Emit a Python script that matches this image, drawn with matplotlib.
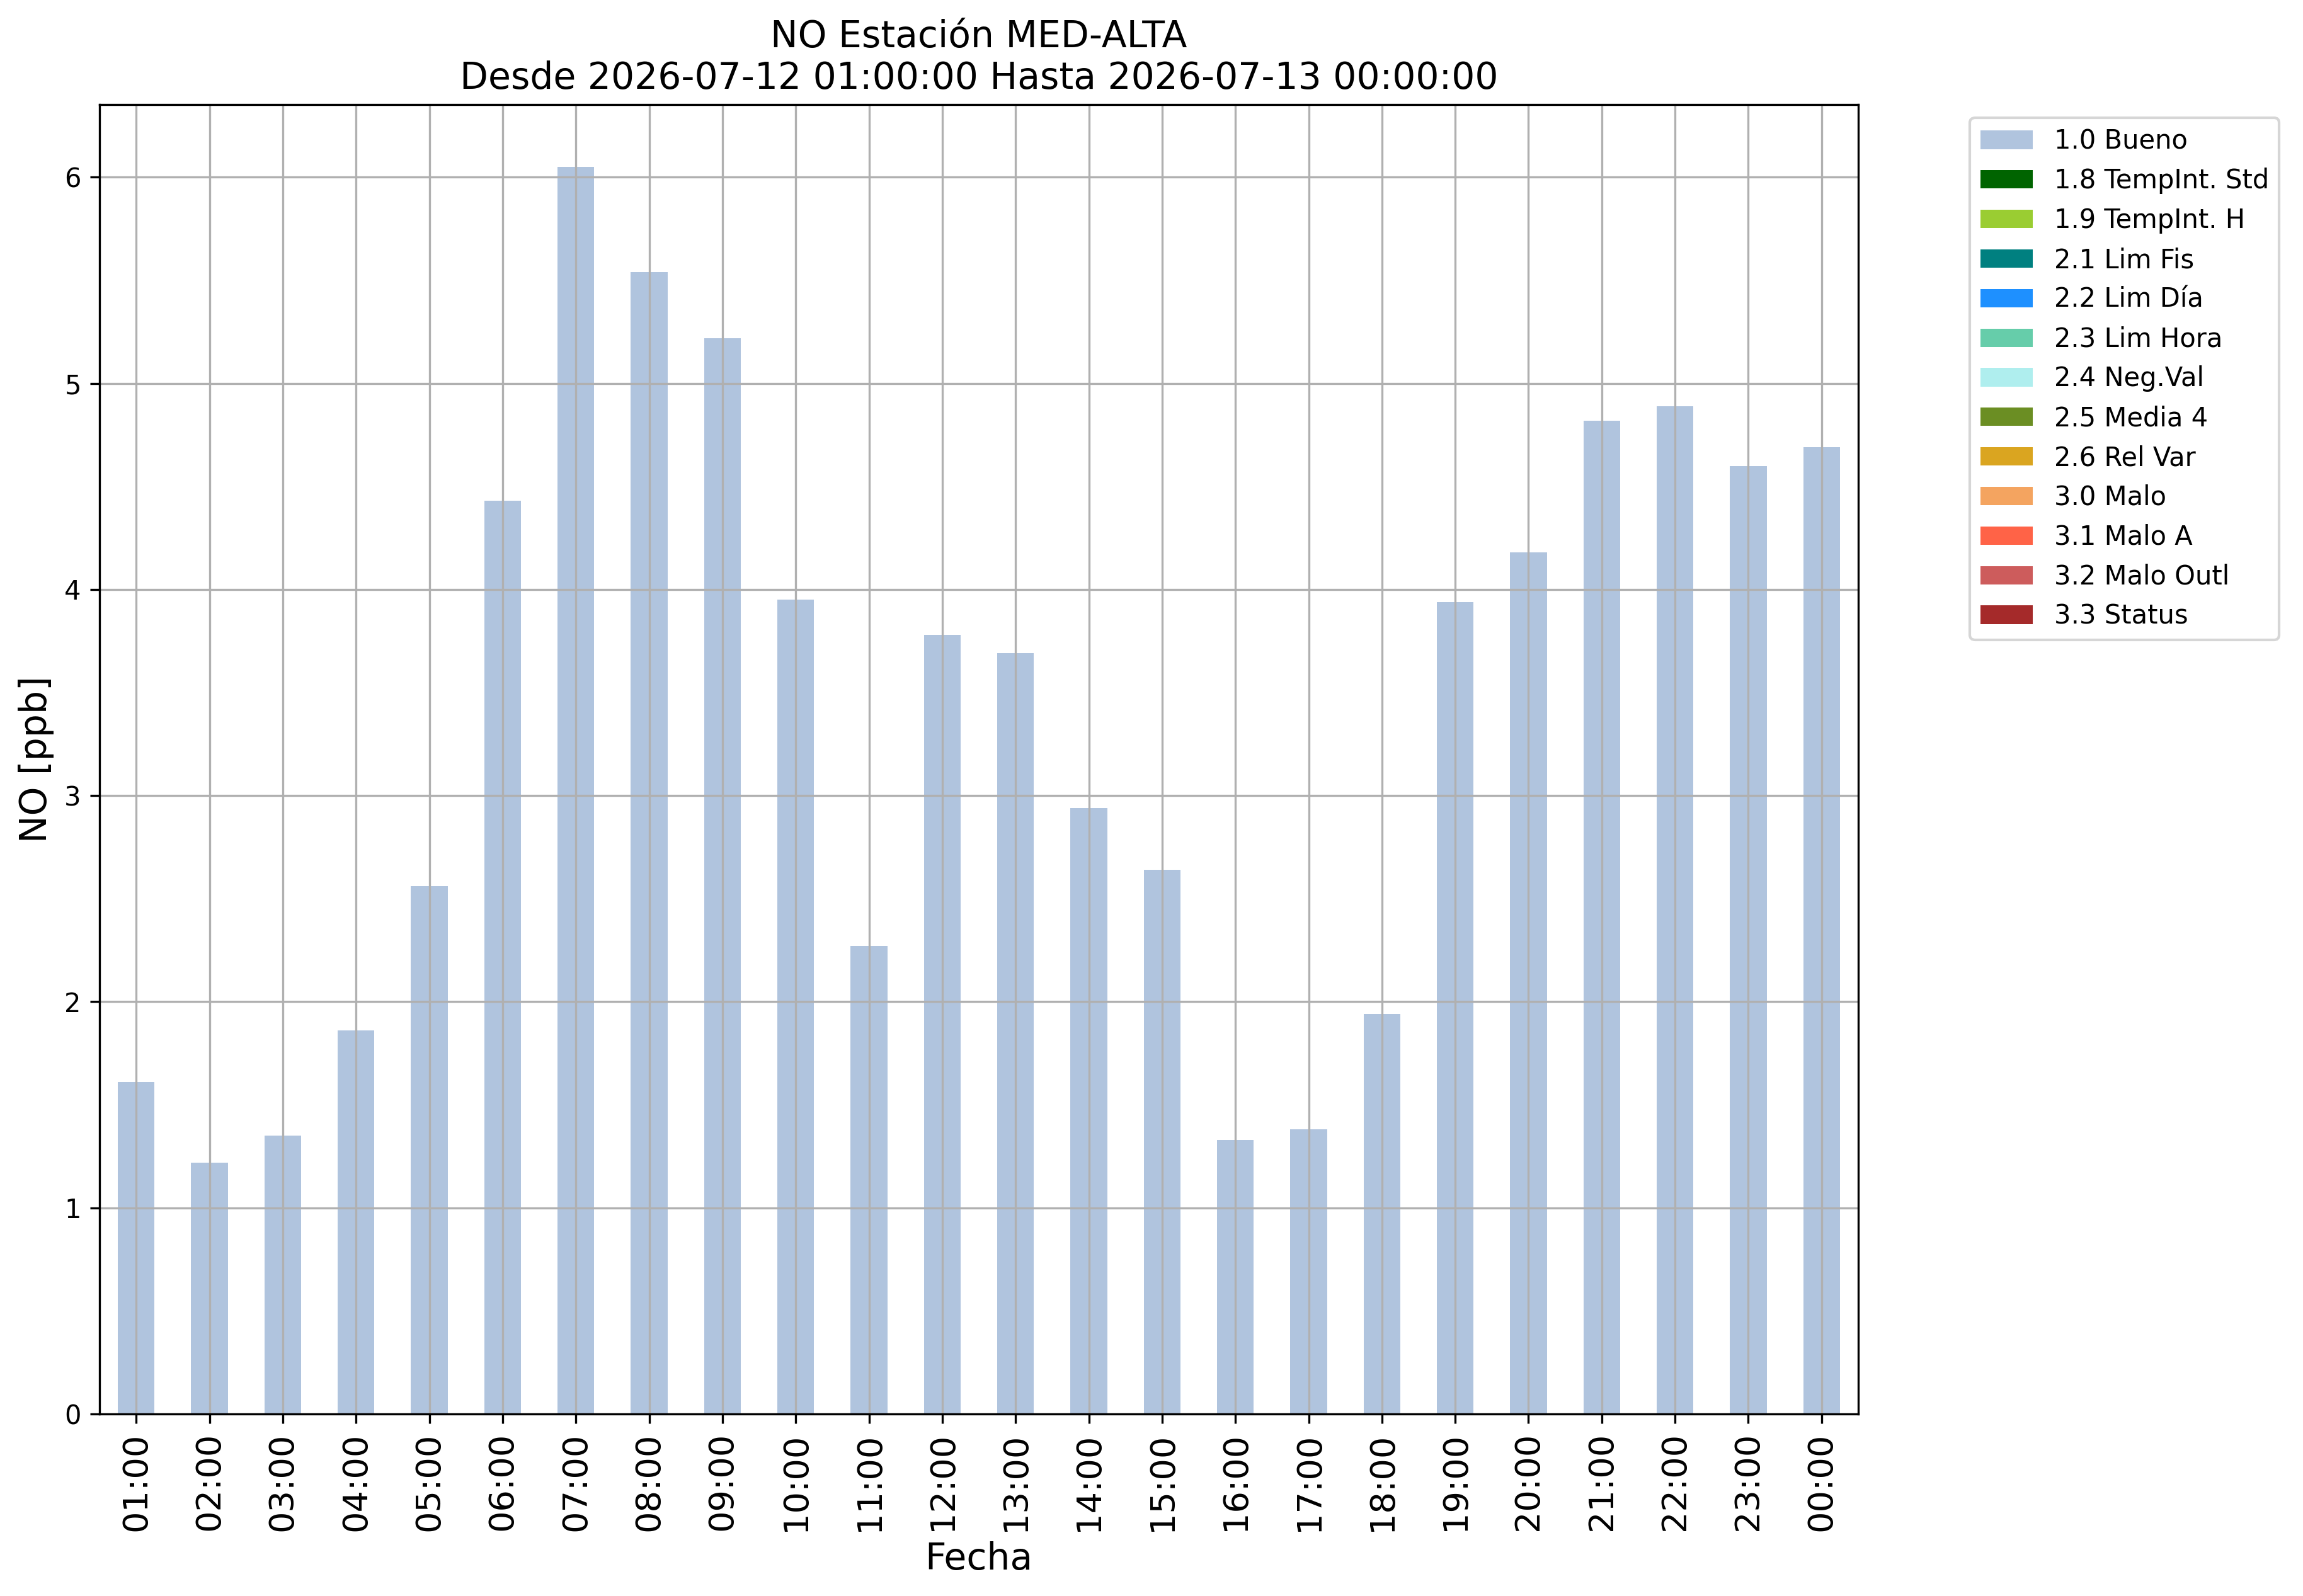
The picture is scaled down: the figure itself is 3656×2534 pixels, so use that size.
import matplotlib
matplotlib.use('Agg')
import matplotlib.pyplot as plt
import numpy as np

# horas del 2026-07-12 01:00 al 2026-07-13 00:00
horas = ['01:00', '02:00', '03:00', '04:00', '05:00', '06:00', '07:00', '08:00',
         '09:00', '10:00', '11:00', '12:00', '13:00', '14:00', '15:00', '16:00',
         '17:00', '18:00', '19:00', '20:00', '21:00', '22:00', '23:00', '00:00']

# NO [ppb], todos con bandera 1.0 Bueno
no_bueno = [1.61, 1.22, 1.35, 1.86, 2.56, 4.43, 6.05, 5.54,
            5.22, 3.95, 2.27, 3.78, 3.69, 2.94, 2.64, 1.33,
            1.38, 1.94, 3.94, 4.18, 4.82, 4.89, 4.60, 4.69]

flags = ['1.0 Bueno', '1.8 TempInt. Std', '1.9 TempInt. H', '2.1 Lim Fis',
         '2.2 Lim Día', '2.3 Lim Hora', '2.4 Neg.Val', '2.5 Media 4',
         '2.6 Rel Var', '3.0 Malo', '3.1 Malo A', '3.2 Malo Outl', '3.3 Status']
flag_colors = ['lightsteelblue', 'darkgreen', 'yellowgreen', 'teal',
               'dodgerblue', 'mediumaquamarine', 'paleturquoise', 'olivedrab',
               'goldenrod', 'sandybrown', 'tomato', 'indianred', 'brown']

# valores por bandera (solo la primera tiene datos)
valores = [no_bueno] + [[0.0] * len(horas) for _ in flags[1:]]

dpi = 300.0
W, H = 3656, 2534
fig = plt.figure(figsize=(W / dpi, H / dpi), dpi=dpi)
ax = fig.add_axes([158 / W, 1 - 2245 / H, (2950 - 158) / W, (2245 - 166) / H])

x = np.arange(len(horas))
bottom = np.zeros(len(horas))
for lab, col, vals in zip(flags, flag_colors, valores):
    vals = np.array(vals)
    ax.bar(x, vals, width=0.5, bottom=bottom, color=col, label=lab)
    bottom += vals

ax.set_xlim(-0.5, len(horas) - 0.5)
ax.set_ylim(0, bottom.max() * 1.05)
ax.set_xticks(x)
ax.set_xticklabels(horas, rotation=90, fontsize=13)
ax.grid(True)

ax.set_title('NO Estación MED-ALTA\nDesde 2026-07-12 01:00:00 Hasta 2026-07-13 00:00:00',
             fontsize=14)
ax.set_xlabel('Fecha', fontsize=14)
ax.set_ylabel('NO [ppb]', fontsize=14)

ax.legend(loc='upper left', bbox_to_anchor=(1.056, 1))

fig.savefig('out.png', dpi=dpi)
